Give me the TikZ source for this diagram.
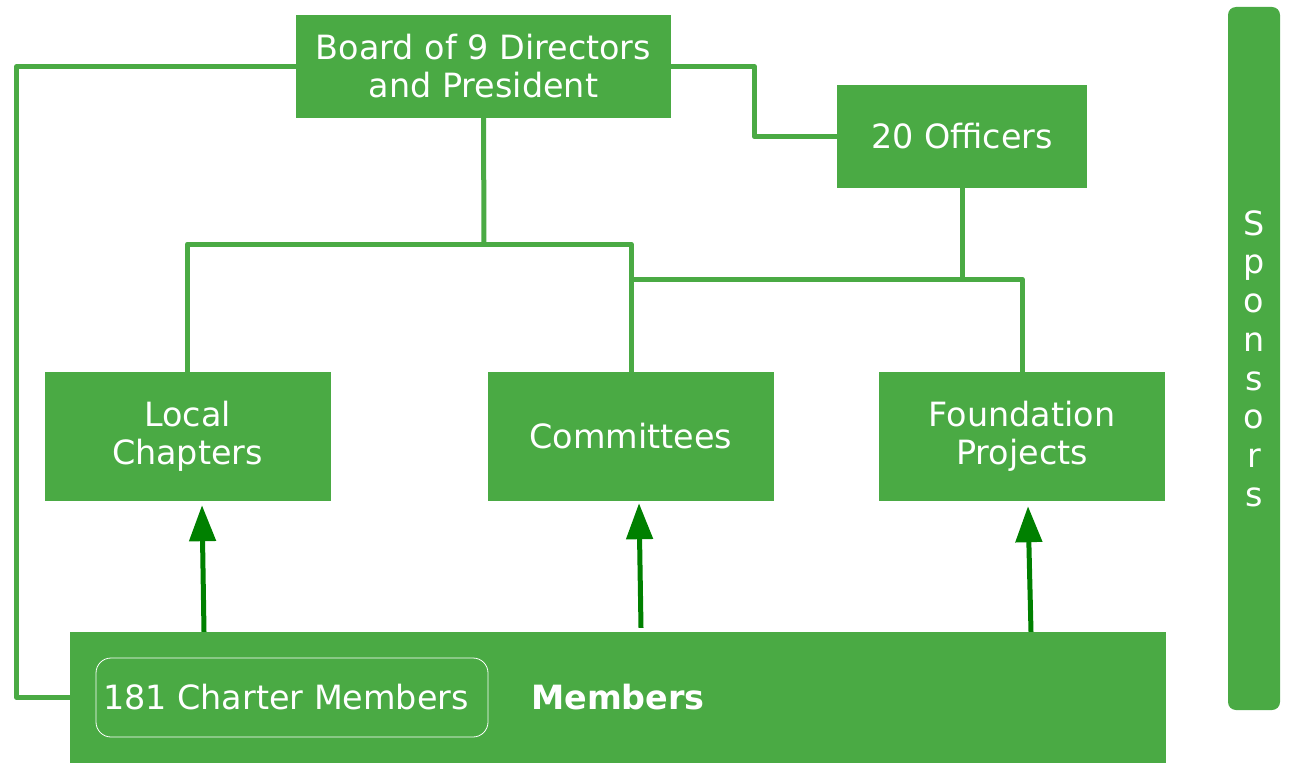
\documentclass[tikz,border=0pt]{standalone}
\usepackage{fontspec}
\setmainfont{DejaVu Sans}
\usetikzlibrary{arrows.meta}
\definecolor{orggreen}{HTML}{4AAA44}
\definecolor{arrgreen}{HTML}{008000}
\begin{document}
\begin{tikzpicture}[x=1pt,y=-1pt, every node/.style={font=\fontsize{33.4}{38}\selectfont,text=white,align=center},
  unit/.style={fill=orggreen,inner sep=0pt,minimum width=286pt,minimum height=129pt},
  link/.style={draw=orggreen,line width=5pt,line join=round},
  feed/.style={draw=arrgreen,line width=5pt,-{Triangle[width=26pt,length=36pt]}}]
\useasboundingbox (0,0) rectangle (1291,781);
\node[unit,minimum width=375pt,minimum height=103pt] (board) at (483.5,66.5) {Board of 9 Directors\\and President};
\node[unit,minimum width=250pt,minimum height=103pt] (officers) at (962,136.5) {20 Officers};
\node[unit] (chapters) at (187.5,436.5) {Local\\Chapters};
\node[unit] (committees) at (631,436.5) {Committees};
\node[unit] (foundation) at (1022,436.5) {Foundation\\Projects};
\node[unit,minimum width=1096pt,minimum height=131pt] (members) at (618,697.5) {};
\node[draw=white,line width=0.8pt,rounded corners=15pt,minimum width=392pt,minimum height=79pt,inner sep=0pt] (charter) at (292,697.5) {181 Charter Members\hspace*{12pt}};
\node[font=\fontsize{33.4}{38}\selectfont\bfseries] (membtxt) at (618,697.5) {Members};
\node[unit,rounded corners=8pt,minimum width=52pt,minimum height=703pt,font=\fontsize{33.4}{38.7}\selectfont] (sponsors) at (1254,358.5) {S\\p\\o\\n\\s\\o\\r\\s};
% reporting lines
\coordinate (hub) at (484,244);
\coordinate (ohub) at (962,279);
\draw[link] (board.west) -- ++(-279,0) |- (members.west);
\draw[link] (board.east) -- ++(83,0) |- (officers.west);
\draw[link] (board.south) -- (hub);
\draw[link] (chapters.north) |- (hub) -| (committees.north);
\draw[link] (officers.south) -- (ohub);
\draw[link] (committees.north |- ohub) -- (ohub) -| (foundation.north);
% members feed up
\draw[feed] ([xshift=-414pt]members.north) -- ([xshift=14.5pt,yshift=-4pt]chapters.south);
\draw[feed] ([xshift=23pt,yshift=4pt]members.north) -- ([xshift=8pt,yshift=-2pt]committees.south);
\draw[feed] ([xshift=413pt]members.north) -- ([xshift=6pt,yshift=-5pt]foundation.south);
\end{tikzpicture}
\end{document}
